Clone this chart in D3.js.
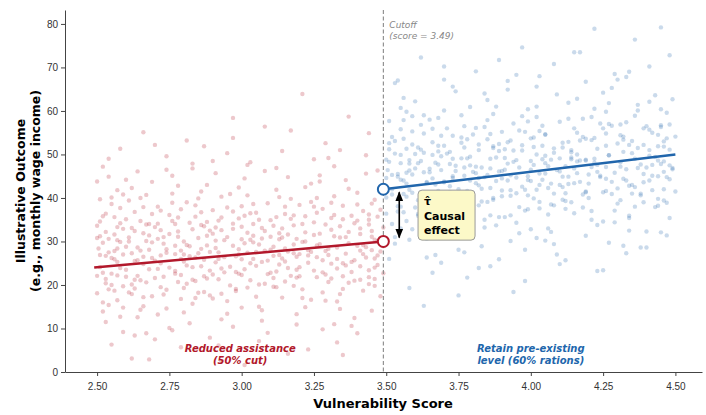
<!DOCTYPE html>
<style>
body { margin: 0; background: #fff; }
svg { font-family: "DejaVu Sans", sans-serif; }
.axis .domain { stroke: #444; }
.axis line { stroke: #444; }
.axis text { fill: #333; font-size: 10px; }
</style>
<svg width="706" height="415"></svg>
<script src="https://d3js.org/d3.v7.min.js"></script>
<script>

var cutoff = 3.49;

var xTicks = [2.50, 2.75, 3.00, 3.25, 3.50, 3.75, 4.00, 4.25, 4.50];
var yTicks = [0, 10, 20, 30, 40, 50, 60, 70, 80];

// fitted lines either side of the cutoff
var leftFit = [[2.49, 24], [3.49, 30]];
var rightFit = [[3.49, 42], [4.50, 50]];

// below cutoff: reduced assistance
var leftPoints = [
[2.51,31.2],[2.87,18.4],[3.12,35.6],[2.64,22.1],[3.41,27.9],[2.93,40.3],[2.58,12.7],[3.27,29.4],[2.72,26.8],[3.05,17.3],
[2.55,38.6],[3.36,44.1],[2.81,24.5],[3.19,21.7],[2.67,33.9],[2.99,28.2],[3.46,19.8],[2.53,20.4],[3.08,46.2],[2.76,9.6],
[3.31,32.7],[2.62,27.3],[2.90,31.8],[3.22,14.9],[2.79,37.4],[3.44,36.2],[2.57,16.5],[3.14,26.1],[2.69,43.7],[3.01,23.6],
[2.84,20.9],[3.38,25.3],[2.52,29.7],[3.17,39.8],[2.95,13.4],[2.60,35.1],[3.25,31.5],[2.74,18.9],[3.48,42.6],[3.03,30.4],
[2.66,24.8],[3.33,16.2],[2.89,27.6],[2.54,44.9],[3.10,22.8],[2.78,32.3],[3.43,28.7],[2.97,36.9],[2.63,19.2],[3.20,27.1],
[2.86,41.5],[3.29,22.4],[2.56,25.9],[3.07,11.8],[2.71,30.6],[3.40,34.8],[2.92,21.3],[2.59,32.9],[3.15,28.4],[2.83,15.7],
[3.35,38.2],[2.68,28.1],[3.00,33.4],[2.50,18.1],[3.24,43.3],[2.77,23.2],[3.47,24.6],[2.94,26.4],[2.61,39.4],[3.11,19.6],
[2.88,34.5],[3.30,26.9],[2.65,14.3],[3.04,29.8],[2.75,36.1],[3.45,31.1],[2.98,18.6],[2.53,26.7],[3.18,33.7],[2.82,28.9],
[3.37,20.5],[2.70,21.6],[3.09,38.8],[2.57,30.3],[3.23,25.1],[2.91,45.7],[3.42,29.2],[2.63,8.4],[3.13,31.9],[2.80,25.4],
[3.32,47.3],[2.55,22.6],[2.96,24.2],[3.26,36.6],[2.73,17.8],[3.49,33.2],[3.02,27.4],[2.58,34.2],[3.16,23.9],[2.85,30.8],
[3.39,12.4],[2.67,40.7],[3.06,20.1],[2.52,35.8],[3.21,29.9],[2.79,27.9],[3.44,23.4],[2.93,32.6],[2.60,21.9],[3.28,18.3],
[2.87,25.8],[3.12,41.9],[2.54,15.4],[2.99,35.3],[3.34,30.9],[2.71,23.7],[3.46,39.6],[2.82,11.2],[3.19,26.5],[2.64,28.6],
[3.07,33.1],[2.76,38.9],[3.41,21.2],[2.94,22.9],[2.51,24.1],[3.25,34.4],[2.90,16.9],[3.36,27.2],[2.68,31.4],[3.01,44.5],
[2.56,27.8],[3.14,17.1],[2.84,35.7],[3.31,24.9],[2.62,42.3],[3.09,25.6],[2.73,29.5],[3.47,30.1],[2.97,10.4],[3.20,38.4],
[2.59,19.7],[2.88,29.1],[3.38,35.9],[2.66,17.2],[3.04,31.3],[2.78,42.8],[3.43,26.3],[2.92,27.5],[3.17,22.1],[2.50,33.6],
[2.81,20.3],[3.27,45.2],[2.69,26.2],[3.11,28.8],[2.55,40.1],[3.35,19.1],[2.95,37.8],[2.74,14.6],[3.22,32.1],[3.48,27.7],
[2.61,30.9],[3.05,24.4],[2.86,33.8],[3.30,28.3],[2.53,21.4],[3.15,36.3],[2.77,22.6],[3.40,41.2],[2.98,26.6],[2.65,34.7],
[3.24,16.6],[2.89,23.3],[3.45,32.4],[2.57,28.4],[3.02,19.4],[2.72,37.1],[3.33,23.8],[2.91,30.2],[3.18,27.3],[2.63,25.5],
[2.83,46.8],[3.29,33.9],[2.52,13.9],[3.08,27.9],[2.75,31.7],[3.42,18.7],[2.96,40.9],[2.67,20.6],[3.13,30.5],[2.80,27.0],
[3.37,29.6],[2.58,37.7],[3.00,22.3],[2.70,33.3],[3.23,26.8],[3.49,22.7],[2.85,18.2],[3.10,34.9],[2.54,30.6],[3.32,40.4],
[2.58,51.3],[2.74,49.6],[2.97,53.8],[3.08,56.4],[3.21,63.9],[3.37,58.7],[2.66,55.1],[2.83,47.9],[3.29,52.6],[3.44,54.9],
[2.52,47.2],[3.14,50.8],[2.90,48.5],[2.62,3.1],[2.79,5.7],[3.01,1.6],[3.16,4.2],[3.33,6.8],[2.55,6.3],[2.93,2.4],
[3.40,8.9],[2.70,7.5],[3.25,48.9],[2.87,51.9],[3.47,46.3],[2.59,9.2],[3.06,7.1],[3.19,10.9],[2.76,45.1],[3.35,3.9],
[2.97,58.4],[2.50,43.8],[2.64,46.1],[3.12,46.9],[3.43,49.8],[2.81,53.2],[2.68,2.9],[3.03,48.2],[3.28,9.8],[2.92,6.1],
[2.51,26.9],[2.60,23.5],[2.69,29.8],[2.78,20.7],[2.86,28.3],[2.95,31.0],[3.04,26.0],[3.13,24.7],[3.22,30.0],[3.31,35.4],
[3.39,25.7],[3.48,37.3],[2.56,31.6],[2.65,21.1],[2.74,27.4],[2.83,32.8],[2.91,25.2],[3.00,38.1],[3.09,22.5],[3.18,29.3],
[3.26,21.8],[3.34,33.5],[3.46,26.1],[2.53,36.4],[2.62,17.9],[2.71,34.1],[2.80,30.0],[2.88,21.5],[2.97,29.0],[3.06,35.0],
[3.15,20.8],[3.24,27.6],[3.32,31.2],[3.41,24.3],[2.57,22.2],[2.66,37.9],[2.75,24.0],[2.84,26.3],[2.93,35.5],[3.02,32.0],
[3.11,26.7],[3.20,24.1],[3.28,37.5],[3.37,32.2],[3.45,28.0],[2.54,19.0],[2.63,32.4],[2.72,25.0],[2.81,39.0],[2.89,32.5],
[2.98,23.0],[3.07,30.7],[3.16,31.6],[3.26,40.0],[3.35,22.0],[3.44,35.0],[2.59,27.0],[2.77,34.0],[3.03,36.5],[3.21,34.0],
[2.505,28.4],[2.62,33.1],[2.73,21.9],[2.84,38.3],[2.96,19.9],[3.07,25.3],[3.18,36.0],[3.29,27.8],[3.41,31.7],[2.58,23.9],
[2.69,17.4],[2.81,29.2],[2.92,34.8],[3.03,21.1],[3.14,30.9],[3.26,26.4],[3.37,42.1],[3.48,29.5],[2.53,32.2],[2.64,25.7],
[2.76,41.0],[2.87,22.0],[2.99,27.0],[3.10,31.1],[3.21,19.0],[3.33,28.6],[3.44,33.9],[2.56,18.7],[2.67,30.1],[2.79,26.0],
[2.90,37.2],[3.01,29.6],[3.12,23.1],[3.24,39.1],[3.35,25.0],[3.46,21.4],[2.51,39.7],[2.60,28.8],[2.71,13.2],[2.83,24.1],
[2.94,30.3],[3.05,36.6],[3.16,27.7],[3.28,22.9],[3.39,34.2],[2.55,26.2],[2.66,31.9],[2.78,35.5],[2.89,17.6],[3.00,25.9],
[3.11,33.6],[3.23,28.0],[3.34,17.9],[3.45,38.7],[2.52,22.8],[2.63,36.8],[2.74,28.2],[2.86,24.3],[2.97,32.9],[3.08,20.3],
[3.19,30.6],[3.31,38.9],[3.42,27.1],[2.57,33.3],[2.68,23.6],[2.80,19.3],[2.91,28.5],[3.02,40.6],[3.13,26.9],[3.25,23.3],
[3.36,31.0],[3.47,35.7],[2.54,27.5],[2.65,40.0],[2.77,29.0],[2.88,31.3],[2.99,22.6],[3.10,28.1],[3.22,42.5],[3.33,26.0],
[3.44,20.2],[2.59,14.8],[2.70,25.6],[2.82,34.3],[2.93,23.8],[3.04,34.0],[3.15,25.4],[3.27,31.8],[3.38,23.0],[3.49,28.9],
[2.50,22.1],[2.61,30.0],[2.72,32.6],[2.85,27.3],[2.95,16.3],[3.06,29.3],[3.17,35.2],[3.30,20.7],[3.40,29.0],[2.56,35.6],
[2.53,11.5],[2.67,8.9],[2.80,13.7],[2.93,12.1],[3.06,15.0],[3.19,13.3],[3.32,11.0],[3.45,14.1],[2.60,44.2],[2.74,46.5],
[2.88,43.0],[3.02,47.6],[3.16,44.8],[3.30,49.2],[3.43,45.6],[2.57,41.8],[2.71,38.0],[2.85,39.9],[2.99,42.4],[3.13,40.2],
[3.27,43.8],[3.40,38.5],[2.52,16.0],[2.66,15.1],[2.79,16.8],[2.93,18.0],[3.07,14.2],[3.21,17.0],[3.34,14.5],[3.48,17.4],
[2.55,20.0],[2.69,36.3],[2.83,21.2],[2.97,34.1],[3.11,21.6],[3.25,38.0],[3.39,21.0],[2.62,20.1],[2.76,34.7],[2.90,22.4],
[3.04,38.6],[3.18,19.8],[3.32,36.1],[3.46,24.0],[2.58,29.9],[2.72,19.5],[2.86,36.7],[3.00,14.8],[3.14,33.0],[3.28,25.7],
[3.42,37.0],[2.51,34.6],[2.65,27.9],[2.78,31.1],[2.92,26.0],[3.05,27.6],[3.20,22.0],[3.35,35.1],[3.47,26.8],[2.64,12.6],
[2.75,10.1],[2.89,7.9],[3.09,9.0],[3.23,5.2],[3.38,10.6],[2.54,49.0],[2.70,52.2],[2.95,50.3],[3.17,55.5],[3.34,51.0],
[2.61,18.3],[2.79,22.3],[2.98,19.1],[3.12,19.5],[3.29,16.4],[3.44,21.8],[2.68,34.0],[2.87,33.5],[3.03,25.0],[3.22,35.8],
[2.57,25.3],[2.73,31.0],[2.91,33.2],[3.08,32.4],[3.26,29.1],[3.41,33.0],[2.50,30.8],[2.63,21.2],[2.82,26.6],[3.00,30.5],
[3.15,38.0],[3.31,21.5],[3.46,30.4],[2.66,26.5],[2.84,17.0],[3.01,35.9],[3.19,23.5],[3.36,24.5],[2.59,40.8],[2.77,27.1]
];

// above cutoff: retain pre-existing level
var rightPoints = [
[3.52,45.3],[3.88,33.7],[4.13,52.9],[3.65,40.2],[4.42,47.6],[3.94,57.1],[3.58,30.4],[4.27,49.8],[3.73,44.6],[4.06,36.2],
[3.55,55.8],[4.37,61.4],[3.82,42.9],[4.19,41.3],[3.68,50.7],[4.00,46.5],[4.47,38.9],[3.54,38.1],[4.09,63.8],[3.77,27.5],
[4.32,53.4],[3.63,45.9],[3.91,49.2],[4.23,33.8],[3.80,54.6],[4.45,56.3],[3.57,34.7],[4.15,46.8],[3.70,60.1],[4.02,41.9],
[3.85,39.1],[4.39,45.5],[3.51,48.3],[4.18,58.2],[3.96,31.9],[3.61,51.6],[4.26,52.0],[3.75,36.8],[4.49,62.7],[4.04,48.9],
[3.67,43.1],[4.34,35.4],[3.90,46.2],[3.55,60.7],[4.11,42.5],[3.79,49.5],[4.44,48.6],[3.98,55.2],[3.64,37.0],[4.21,47.1],
[3.87,59.3],[4.30,42.2],[3.56,44.0],[4.08,29.4],[3.72,47.8],[4.41,55.7],[3.93,40.5],[3.60,50.1],[4.16,48.4],[3.84,33.2],
[4.36,58.9],[3.69,46.4],[4.01,51.7],[3.50,36.4],[4.25,64.2],[3.78,41.6],[4.48,44.3],[3.95,44.7],[3.62,56.8],[4.12,39.3],
[3.89,52.4],[4.31,47.2],[3.66,31.5],[4.05,48.0],[3.76,53.9],[4.46,51.8],[3.99,37.4],[3.54,44.9],[4.19,53.6],[3.83,47.0],
[4.38,40.6],[3.71,40.0],[4.10,57.5],[3.58,48.7],[4.24,45.1],[3.92,64.9],[4.43,49.4],[3.64,26.3],[4.14,50.5],[3.81,43.4],
[4.33,67.8],[3.56,40.9],[3.97,42.6],[4.27,57.0],[3.74,35.2],[4.50,54.1],[4.03,45.6],[3.59,52.3],[4.17,43.7],[3.86,49.0],
[4.40,32.3],[3.68,58.4],[4.07,38.5],[3.53,53.1],[4.22,48.1],[3.80,46.0],[4.45,60.4],[3.94,50.9],[3.61,39.5],[4.29,37.1],
[3.88,43.9],[4.13,61.9],[3.55,33.0],[4.00,53.7],[4.35,50.3],[3.72,41.4],[4.47,59.6],[3.83,28.9],[4.20,45.4],[3.65,46.7],
[4.08,51.4],[3.77,56.5],[4.42,41.8],[3.95,41.1],[3.52,42.0],[4.26,54.8],[3.91,35.6],[4.37,46.9],[3.69,49.6],[4.02,61.0],
[3.57,45.8],[4.15,36.5],[3.85,53.5],[4.32,44.4],[3.63,59.0],[4.10,43.0],[3.74,47.4],[4.48,51.1],[3.98,28.1],[4.21,58.6],
[3.60,37.8],[3.89,46.1],[4.39,56.0],[3.67,35.0],[4.05,49.7],[3.79,60.9],[4.44,45.0],[3.93,45.2],[4.18,40.8],[3.51,51.2],
[3.82,38.3],[4.28,65.3],[3.70,43.8],[4.12,47.3],[3.56,57.9],[4.36,38.0],[3.96,55.5],[3.75,31.1],[4.23,51.3],[4.49,46.6],
[3.62,48.5],[4.06,42.3],[3.87,51.9],[4.31,48.2],[3.54,39.8],[4.16,55.0],[3.78,40.4],[4.41,62.1],[3.99,44.1],[3.66,52.8],
[4.25,34.6],[3.90,41.7],[4.46,53.0],[3.58,46.3],[4.03,37.6],[3.73,54.3],[4.34,42.8],[3.92,47.9],[4.19,48.8],[3.64,43.5],
[3.84,64.0],[4.30,52.5],[3.53,31.0],[4.09,46.4],[3.76,49.1],[4.43,37.9],[3.97,58.8],[3.68,38.7],[4.14,49.3],[3.81,45.7],
[4.38,47.7],[3.59,55.3],[4.01,39.9],[3.71,50.2],[4.24,44.8],[4.50,41.5],[3.86,36.0],[4.11,52.7],[3.55,48.0],[4.33,57.4],
[3.62,72.3],[3.81,69.1],[3.97,74.6],[4.08,70.8],[4.22,78.9],[4.36,76.4],[3.70,67.2],[3.89,71.7],[4.29,68.5],[4.45,79.2],
[3.53,66.4],[4.15,73.5],[3.92,66.9],[4.41,70.2],[4.03,68.0],[3.58,19.3],[3.66,22.8],[3.75,17.6],[3.86,24.3],[3.98,20.9],
[4.12,25.7],[4.25,23.4],[4.40,28.6],[3.51,26.0],[3.63,15.2],[3.82,23.9],[4.05,30.2],[4.33,27.3],[3.94,18.4],[4.47,31.4],
[3.56,63.0],[3.73,65.6],[4.19,66.7],[4.48,72.8],[3.85,62.5],[4.02,30.8],[3.69,25.1],[4.27,29.7],[4.10,24.8],[3.78,21.7],
[3.50,44.6],[3.59,41.2],[3.68,47.7],[3.77,38.6],[3.86,46.8],[3.95,48.7],[4.04,44.2],[4.13,43.2],[4.22,49.0],[4.31,54.4],
[4.39,43.6],[4.48,56.9],[3.55,49.9],[3.64,38.4],[3.73,45.0],[3.82,51.0],[3.90,44.5],[3.99,57.6],[4.08,41.0],[4.17,48.6],
[4.26,41.6],[4.34,52.2],[4.46,46.0],[3.52,54.0],[3.61,35.9],[3.70,52.0],[3.79,47.5],[3.87,39.6],[3.96,47.0],[4.05,54.6],
[4.14,39.0],[4.23,47.6],[4.32,50.6],[4.41,44.0],[3.57,40.3],[3.66,55.9],[3.75,42.0],[3.84,44.8],[3.93,53.2],[4.02,50.0],
[4.11,44.9],[4.20,43.3],[4.28,56.6],[4.37,51.5],[4.45,47.8],[3.54,36.9],[3.63,50.4],[3.72,42.7],[3.81,56.1],[3.89,50.8],
[3.98,41.9],[4.07,48.8],[4.16,50.0],[4.26,59.8],[4.35,41.0],[4.44,54.5],[3.59,45.4],[3.77,51.6],[4.03,55.4],[4.21,53.3],
[3.505,46.4],[3.62,51.1],[3.73,39.9],[3.84,56.3],[3.96,37.9],[4.07,43.3],[4.18,54.0],[4.29,45.8],[4.41,49.7],[3.58,41.9],
[3.69,35.4],[3.81,47.2],[3.92,52.8],[4.03,39.1],[4.14,48.9],[4.26,44.4],[4.37,60.1],[4.48,47.5],[3.53,50.2],[3.64,43.7],
[3.76,59.0],[3.87,40.0],[3.99,45.0],[4.10,49.1],[4.21,37.0],[4.33,46.6],[4.44,51.9],[3.56,36.7],[3.67,48.1],[3.79,44.0],
[3.90,55.2],[4.01,47.6],[4.12,41.1],[4.24,57.1],[4.35,43.0],[4.46,39.4],[3.51,57.7],[3.60,46.8],[3.71,31.2],[3.83,42.1],
[3.94,48.3],[4.05,54.6],[4.16,45.7],[4.28,40.9],[4.39,52.2],[3.55,44.2],[3.66,49.9],[3.78,53.5],[3.89,35.6],[4.00,43.9],
[4.11,51.6],[4.23,46.0],[4.34,35.9],[4.45,56.7],[3.52,40.8],[3.63,54.8],[3.74,46.2],[3.86,42.3],[3.97,50.9],[4.08,38.3],
[4.19,48.6],[4.31,56.9],[4.42,45.1],[3.57,51.3],[3.68,41.6],[3.80,37.3],[3.91,46.5],[4.02,58.6],[4.13,44.9],[4.25,41.3],
[4.36,49.0],[4.47,53.7],[3.54,45.5],[3.65,58.0],[3.77,47.0],[3.88,49.3],[3.99,40.6],[4.10,46.1],[4.22,60.5],[4.33,44.0],
[4.44,38.2],[3.59,32.8],[3.70,43.6],[3.82,52.3],[3.93,41.8],[4.04,52.0],[4.15,43.4],[4.27,49.8],[4.38,41.0],[4.49,46.9],
[3.50,40.1],[3.61,48.0],[3.72,50.6],[3.85,45.3],[3.95,34.3],[4.06,47.3],[4.17,53.2],[4.30,38.7],[4.40,47.0],[3.56,53.6],
[3.53,29.5],[3.67,26.9],[3.80,31.7],[3.93,30.1],[4.06,33.0],[4.19,31.3],[4.32,29.0],[4.45,32.1],[3.60,62.2],[3.74,64.5],
[3.88,61.0],[4.02,65.6],[4.16,62.8],[4.30,67.2],[4.43,63.6],[3.57,59.8],[3.71,56.0],[3.85,57.9],[3.99,60.4],[4.13,58.2],
[4.27,61.8],[4.40,56.5],[3.52,34.0],[3.66,33.1],[3.79,34.8],[3.93,36.0],[4.07,32.2],[4.21,35.0],[4.34,32.5],[4.48,35.4],
[3.55,38.0],[3.69,54.3],[3.83,39.2],[3.97,52.1],[4.11,39.6],[4.25,56.0],[4.39,39.0],[3.62,38.1],[3.76,52.7],[3.90,40.4],
[4.04,56.6],[4.18,37.8],[4.32,54.1],[4.46,42.0],[3.58,47.9],[3.72,37.5],[3.86,54.7],[4.00,32.8],[4.14,51.0],[4.28,43.7],
[4.42,55.0],[3.51,52.6],[3.65,45.9],[3.78,49.1],[3.92,44.0],[4.05,45.6],[4.20,40.0],[4.35,53.1],[4.47,44.8],[3.64,30.6],
[3.75,28.1],[3.89,25.9],[4.09,27.0],[4.23,23.2],[4.38,28.6],[3.54,67.0],[3.70,70.2],[3.95,68.3],[4.17,73.5],[4.34,69.0],
[3.61,36.3],[3.79,40.3],[3.98,37.1],[4.12,37.5],[4.29,34.4],[4.44,39.8],[3.68,52.0],[3.87,51.5],[4.03,43.0],[4.22,53.8],
[3.57,43.3],[3.73,49.0],[3.91,51.2],[4.08,50.4],[4.26,47.1],[4.41,51.0],[3.50,48.8],[3.63,39.2],[3.82,44.6],[4.00,48.5],
[4.15,56.0],[4.31,39.5],[4.46,48.4],[3.66,44.5],[3.84,35.0],[4.01,53.9],[4.19,41.5],[4.36,42.5],[3.59,58.8],[3.77,45.1]
];

var red = "#b2182b", blue = "#2166ac";

var svg = d3.select("svg");

var x = d3.scaleLinear().domain([2.389, 4.592]).range([65, 702]);
var y = d3.scaleLinear().domain([0, 83.2]).range([372, 10]);

// scatter clouds
svg.append("g").selectAll("circle")
    .data(leftPoints)
  .enter().append("circle")
    .attr("cx", function(d) { return x(d[0]); })
    .attr("cy", function(d) { return y(d[1]); })
    .attr("r", 2.2)
    .attr("fill", red)
    .attr("fill-opacity", 0.24);

svg.append("g").selectAll("circle")
    .data(rightPoints)
  .enter().append("circle")
    .attr("cx", function(d) { return x(d[0]); })
    .attr("cy", function(d) { return y(d[1]); })
    .attr("r", 2.2)
    .attr("fill", blue)
    .attr("fill-opacity", 0.24);

// axes
svg.append("g")
    .attr("class", "axis")
    .attr("transform", "translate(0,372)")
    .call(d3.axisBottom(x).tickValues(xTicks).tickFormat(d3.format(".2f")).tickSize(4).tickSizeOuter(0))
    .selectAll("text").attr("dy", "1.05em");

svg.append("g")
    .attr("class", "axis")
    .attr("transform", "translate(65,0)")
    .call(d3.axisLeft(y).tickValues(yTicks).tickSize(4).tickSizeOuter(0));

// cutoff line
svg.append("line")
    .attr("x1", x(cutoff)).attr("x2", x(cutoff))
    .attr("y1", y(83.2)).attr("y2", y(0))
    .attr("stroke", "#888")
    .attr("stroke-width", 1.1)
    .attr("stroke-dasharray", "4,2.5");

svg.append("text")
    .attr("x", x(cutoff) + 6).attr("y", 28)
    .attr("fill", "#888").attr("font-size", 9).attr("font-style", "italic")
    .text("Cutoff");
svg.append("text")
    .attr("x", x(cutoff) + 6).attr("y", 39)
    .attr("fill", "#888").attr("font-size", 9).attr("font-style", "italic")
    .text("(score = " + cutoff + ")");

// fit lines
var line = d3.line()
    .x(function(d) { return x(d[0]); })
    .y(function(d) { return y(d[1]); });

svg.append("path").datum(leftFit)
    .attr("d", line).attr("fill", "none")
    .attr("stroke", red).attr("stroke-width", 2.5);
svg.append("path").datum(rightFit)
    .attr("d", line).attr("fill", "none")
    .attr("stroke", blue).attr("stroke-width", 2.5);

// open markers at the cutoff
svg.append("circle")
    .attr("cx", x(leftFit[1][0])).attr("cy", y(leftFit[1][1])).attr("r", 5.5)
    .attr("fill", "#fff").attr("stroke", red).attr("stroke-width", 2);
svg.append("circle")
    .attr("cx", x(rightFit[0][0])).attr("cy", y(rightFit[0][1])).attr("r", 5.5)
    .attr("fill", "#fff").attr("stroke", blue).attr("stroke-width", 2);

// double arrow for the jump
var defs = svg.append("defs");
defs.append("marker")
    .attr("id", "ah")
    .attr("viewBox", "0 0 10 10")
    .attr("refX", 9).attr("refY", 5)
    .attr("markerWidth", 6).attr("markerHeight", 6)
    .attr("orient", "auto-start-reverse")
  .append("path")
    .attr("d", "M0,1L10,5L0,9z")
    .attr("fill", "#000");

var ax = x(3.545);
svg.append("line")
    .attr("x1", ax).attr("x2", ax)
    .attr("y1", y(41.3)).attr("y2", y(30.9))
    .attr("stroke", "#000").attr("stroke-width", 1.6)
    .attr("marker-start", "url(#ah)")
    .attr("marker-end", "url(#ah)");

// causal effect box
var bx = x(3.61), by = y(41.8);
svg.append("rect")
    .attr("x", bx).attr("y", by)
    .attr("width", 57).attr("height", 50)
    .attr("rx", 4)
    .attr("fill", "#fcf9c8")
    .attr("stroke", "#999")
    .attr("stroke-width", 1);

svg.append("text")
    .attr("x", bx + 6).attr("y", by + 15)
    .attr("font-size", 11).attr("font-weight", "bold")
    .text("\u03C4\u0302");
svg.append("text")
    .attr("x", bx + 6).attr("y", by + 30)
    .attr("font-size", 11).attr("font-weight", "bold")
    .text("Causal");
svg.append("text")
    .attr("x", bx + 6).attr("y", by + 44)
    .attr("font-size", 11).attr("font-weight", "bold")
    .text("effect");

// region labels
var lab = svg.append("g")
    .attr("font-size", 10).attr("font-weight", "bold").attr("font-style", "italic")
    .attr("text-anchor", "middle");
lab.append("text").attr("x", x(2.995)).attr("y", 352).attr("fill", red).text("Reduced assistance");
lab.append("text").attr("x", x(2.995)).attr("y", 364).attr("fill", red).text("(50% cut)");
lab.append("text").attr("x", x(4.0)).attr("y", 352).attr("fill", blue).text("Retain pre-existing");
lab.append("text").attr("x", x(4.0)).attr("y", 364).attr("fill", blue).text("level (60% rations)");

// axis titles
svg.append("text")
    .attr("x", 383).attr("y", 408)
    .attr("text-anchor", "middle")
    .attr("font-size", 13).attr("font-weight", "bold")
    .text("Vulnerability Score");

var yl = svg.append("g")
    .attr("transform", "translate(0,191) rotate(-90)")
    .attr("text-anchor", "middle")
    .attr("font-size", 12.5).attr("font-weight", "bold");
yl.append("text").attr("x", 0).attr("y", 25).text("Illustrative Outcome");
yl.append("text").attr("x", 0).attr("y", 40).text("(e.g., monthly wage income)");

</script>
